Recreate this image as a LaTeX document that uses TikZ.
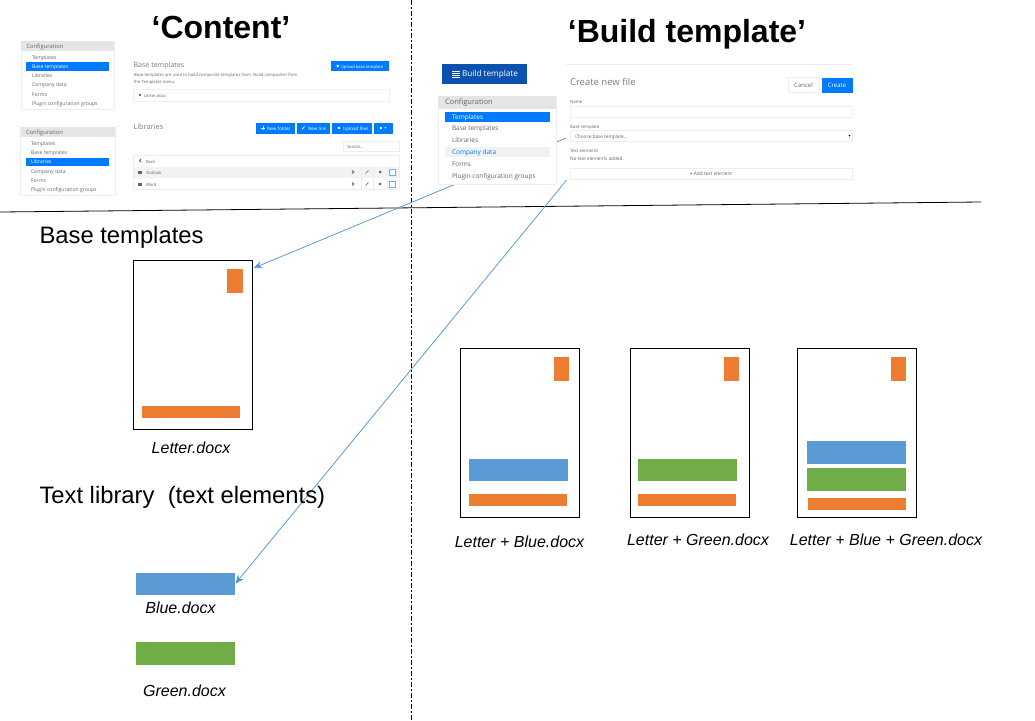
\documentclass[tikz,border=0pt]{standalone}
\usepackage{fontspec}
\setmainfont{Liberation Sans}
\newfontfamily\uifont{Open Sans}
\newfontfamily\symfont{DejaVu Sans}
\usetikzlibrary{arrows.meta}
\definecolor{uiblue}{HTML}{007BFF}
\definecolor{uidark}{HTML}{0B52B0}
\definecolor{uitext}{HTML}{666666}
\definecolor{uihead}{HTML}{E5E5E5}
\definecolor{uiline}{HTML}{EEEEEE}
\definecolor{uirow}{HTML}{F2F2F2}
\definecolor{docorange}{HTML}{ED7D31}
\definecolor{docblue}{HTML}{5B9BD5}
\definecolor{docgreen}{HTML}{70AD47}
\definecolor{arrowblue}{HTML}{5B9BD5}
\tikzset{
  px/.style={inner sep=0pt,outer sep=0pt},
  uitxt/.style={px,text height=.7em,text depth=.2em},
  titletext/.style={px,font=\fontsize{32}{36}\selectfont\bfseries},
  headtext/.style={px,anchor=west,font=\fontsize{23.8}{28}\selectfont},
  captext/.style={px,font=\fontsize{16}{20}\selectfont\itshape},
  page/.style={px,draw=black,line width=0.9pt,fill=white,minimum width=119,minimum height=169.5},
  orangebar/.style={px,fill=docorange},
  bluebar/.style={px,fill=docblue},
  greenbar/.style={px,fill=docgreen},
  panel/.style={px,draw=uiline,line width=0.6pt,fill=white},
  cleanpanel/.style={px,fill=white},
  uihead/.style={px,fill=uihead},
  uihigh/.style={px,fill=uiblue},
  uirowbg/.style={px,fill=uirow},
  uibox/.style={px,draw=uiline,line width=0.6pt,fill=white},
  uibtn/.style={px,fill=uiblue},
  btntext/.style={uitxt,anchor=west,text=white,font=\uifont\fontsize{4.6}{5}\selectfont},
  ui/.style={uitxt,anchor=west,text=uitext,font=\uifont\fontsize{5.1}{6}\selectfont},
  uicap/.style={uitxt,anchor=west,text=uitext,font=\uifont\fontsize{5.8}{7}\selectfont},
  uismall/.style={uitxt,anchor=west,text=uitext,font=\uifont\fontsize{4.2}{5}\selectfont},
  uiform/.style={uitxt,anchor=west,text=uitext,font=\uifont\fontsize{4.7}{5}\selectfont},
  uititle/.style={uitxt,anchor=west,text=uitext!85,font=\uifont\fontsize{7.4}{8}\selectfont},
  uilarge/.style={uitxt,anchor=west,text=uitext,font=\uifont\fontsize{6.5}{8}\selectfont},
  link/.style={draw=arrowblue,line width=0.8pt,-{Stealth[length=8.5pt,width=7.5pt]}},
  sep/.style={draw=black,line width=0.8pt},
  sepv/.style={draw=black,line width=0.9pt,dash pattern=on 4.5pt off 2pt on 2.5pt off 2pt},
}
\newcommand{\uirect}[6][]{\node[#2,minimum width=#5-#3,minimum height=#6-#4,#1] at ({(#3+#5)/2},{(#4+#6)/2}) {};}
\begin{document}
\begin{tikzpicture}[x=1pt,y=-1pt]
\useasboundingbox (0,0) rectangle (1035,720);
\fill[white] (0,0) rectangle (1035,720);
% separators
\coordinate (sepA) at (0,212);
\coordinate (sepB) at (981,202);
\coordinate (sepC) at (411,0);
\coordinate (sepD) at (411,720);
\draw[sep] (sepA) -- (sepB);
\draw[sepv] (sepC) -- (sepD);
% documents
\node[page] (basedoc) at (193,345) {};
\node[page] (doc1) at (520,433) {};
\node[page] (doc2) at (690,433) {};
\node[page] (doc3) at (857,433) {};
\node[bluebar,minimum width=99,minimum height=22.5] (blue) at (185.5,584) {};
\node[greenbar,minimum width=99,minimum height=23] (green) at (185.5,653.5) {};
% connectors
\coordinate (startA) at (568,137.3);
\coordinate (startB) at (567.5,179);
\coordinate (endA) at (253.8,268);
\coordinate (endB) at (235.5,583.5);
\draw[link] (startA) -- (endA);
\draw[link] (startB) -- (endB);
% page contents
\node[orangebar,minimum width=16,minimum height=24] (o1) at (235,281) {};
\node[orangebar,minimum width=98,minimum height=12] (b1) at (191,412) {};
\node[orangebar,minimum width=15,minimum height=24] (o2) at (561.5,369) {};
\node[bluebar,minimum width=99,minimum height=22] (m2) at (518.5,470) {};
\node[orangebar,minimum width=98,minimum height=12] (b2) at (518,500) {};
\node[orangebar,minimum width=15,minimum height=24] (o3) at (731.5,369) {};
\node[greenbar,minimum width=99,minimum height=22] (m3) at (687.5,470) {};
\node[orangebar,minimum width=98,minimum height=12] (b3) at (687,500) {};
\node[orangebar,minimum width=15,minimum height=24] (o4) at (898.5,369) {};
\node[bluebar,minimum width=99,minimum height=23] (m4a) at (856.5,452.5) {};
\node[greenbar,minimum width=99,minimum height=23] (m4b) at (856.5,479.5) {};
\node[orangebar,minimum width=98,minimum height=12] (b4) at (856.5,504) {};
% large text
\node[titletext] (t1) at (221,27.5) {‘Content’};
\node[titletext] (t2) at (687,34) {‘Build template’};
\node[headtext] (h1) at (39.5,237) {Base templates};
\node[headtext] (h2) at (39.5,497) {Text library\ \ (text elements)};
\node[captext] (c0) at (191,447.5) {Letter.docx};
\node[captext] (c1) at (519.5,542) {Letter + Blue.docx};
\node[captext] (c2) at (698,540) {Letter + Green.docx};
\node[captext] (c3) at (886,540) {Letter + Blue + Green.docx};
\node[captext] (c4) at (180.5,607.5) {Blue.docx};
\node[captext] (c5) at (184.5,690.5) {Green.docx};
% --- Content screenshots ---
\uirect{panel}{21}{41}{114}{109}
\uirect{uihead}{21}{41}{114}{51}
\node[uicap] (p1h) at (26.5,45.8) {Configuration};
\uirect{uihigh}{26}{62}{109}{71}
\node[ui] (p1a) at (32,57) {Templates};
\node[ui,text=white] (p1b) at (32,66) {Base templates};
\node[ui] (p1c) at (32,75) {Libraries};
\node[ui] (p1d) at (32,84.3) {Company data};
\node[ui] (p1e) at (32,93.5) {Forms};
\node[ui] (p1f) at (32,102.8) {Plugin configuration groups};
\uirect{panel}{20.5}{127}{115}{195}
\uirect{uihead}{20.5}{127}{115}{137}
\node[uicap] (p2h) at (26,131.8) {Configuration};
\uirect{uihigh}{26}{157.5}{109}{166}
\node[ui] (p2a) at (31,143) {Templates};
\node[ui] (p2b) at (31,152) {Base templates};
\node[ui,text=white] (p2c) at (31,161.3) {Libraries};
\node[ui] (p2d) at (31,170.5) {Company data};
\node[ui] (p2e) at (31,180) {Forms};
\node[ui] (p2f) at (31,189) {Plugin configuration groups};
% base templates pane
\node[uititle,font=\uifont\fontsize{7.1}{8}\selectfont] (bt) at (133.5,65) {Base templates};
\uirect{uibtn}{330.5}{61}{389}{71}
\fill[white] (337.7,66) circle (1.4pt);
\node[btntext,font=\uifont\fontsize{4.1}{5}\selectfont] (btt) at (341,66) {Upload base template};
\node[uismall] (bd1) at (134,74.3) {Base templates are used to build composite templates from. Build composites from};
\node[uismall] (bd2) at (134,80.5) {the Templates menu.};
\uirect{uibox}{133.5}{89.5}{389}{101}
\fill[uitext] (140,95) circle (1.4pt);
\node[uismall] (bl) at (144,95) {Letter.docx};
% libraries pane
\node[uititle] (lt) at (133.5,126.5) {Libraries};
\uirect{uibtn}{256}{123}{295}{133.5}
\draw[white,line width=0.9pt] (261,128) -- (265,128) (263,126) -- (263,130);
\node[btntext] (l1) at (267,128) {New folder};
\uirect{uibtn}{297}{123}{330}{133.5}
\draw[white,line width=0.7pt] (302,129.5) -- (304.5,126.5);
\node[btntext] (l2) at (308,128) {New link};
\uirect{uibtn}{332}{123}{372}{133.5}
\fill[white] (339,128) circle (1.4pt);
\node[btntext] (l3) at (343,128) {Upload files};
\uirect{uibtn}{374}{123}{392.5}{133.5}
\fill[white] (381,128) circle (1.4pt);
\node[px,text=white,font=\symfont\fontsize{4}{4}\selectfont] (l4) at (385.5,128) {▾};
\uirect{uibox}{343.5}{141}{399}{151}
\node[uismall] (ls) at (347,146) {Search...};
\uirect{uibox}{133.5}{155}{399}{189.5}
\uirect{uirowbg}{134}{166.5}{399}{178}
\node[uismall] (lb) at (146,160.5) {Back};
\node[uismall] (lo) at (146,172) {Outlook};
\node[uismall] (lw) at (146,184) {Word};
\draw[uitext,line width=0.8pt] (141,159) -- (139.5,160.5) -- (141,162);
\fill[uitext] (137.5,170.5) rectangle (141.5,173.5);
\fill[uitext] (137.5,182.5) rectangle (141.5,185.5);
\foreach \yy in {172,184}{
  \draw[uitext,line width=0.9pt] (352,\yy-1.5) -- (353.8,\yy) -- (352,\yy+1.5);
  \draw[uitext,line width=0.6pt] (365.5,\yy+1.5) -- (368.5,\yy-1.5);
  \fill[uitext] (380,\yy) circle (1.5pt);
  \draw[uiblue!60,line width=0.8pt,fill=white] (389,\yy-3) rectangle (395.5,\yy+3);
}
\draw[uiline,line width=0.5pt] (361,166.5) -- (361,189.5) (373.5,166.5) -- (373.5,189.5) (387,166.5) -- (387,189.5);
% --- Build template screenshots ---
\node[px,fill=uidark,minimum width=85,minimum height=20] (bb) at (484.5,74) {};
\foreach \yy in {70.5,72.5,74.5,76.5}{\fill[white] (452,\yy) rectangle (460,\yy+1.3);}
\node[uitxt,anchor=west,text=white,font=\uifont\fontsize{8.2}{10}\selectfont] (bbt) at (462,73.5) {Build template};
\node[panel,minimum width=118,minimum height=88] (cfg3) at (497,140) {};
\uirect{uihead}{438}{96}{556}{109}
\node[uilarge,font=\uifont\fontsize{7.5}{8}\selectfont] (p3h) at (445,102) {Configuration};
\uirect{uihigh}{445}{112}{550}{122}
\uirect{uirowbg}{445}{147}{550}{157}
\node[uilarge,text=white] (p3a) at (452,116.5) {Templates};
\node[uilarge] (p3b) at (452,128.3) {Base templates};
\node[uilarge] (p3c) at (452,140) {Libraries};
\node[uilarge,text=uiblue] (p3d) at (452,152) {Company data};
\node[uilarge] (p3e) at (452,163.5) {Forms};
\node[uilarge] (p3f) at (452,175.5) {Plugin configuration groups};
% create form
\node[cleanpanel,minimum width=288,minimum height=116] (form) at (710,122) {};
\draw[uiline,line width=0.5pt] (form.north west) -- (form.north east);
\node[uitxt,anchor=west,text=uitext!85,font=\uifont\fontsize{9.5}{12}\selectfont] (cf) at (570,82.5) {Create new file};
\uirect{uibox}{788}{77.5}{819}{92.5}
\node[px,text=uitext,font=\uifont\fontsize{6}{7}\selectfont] (cc) at (803.5,85) {Cancel};
\uirect{uihigh}{822}{77.5}{852.5}{92.5}
\node[px,text=white,font=\uifont\fontsize{6}{7}\selectfont] (cr) at (837,85) {Create};
\node[uiform,font=\uifont\fontsize{4.4}{5}\selectfont] (fn) at (570,100.5) {Name};
\uirect{uibox}{570}{106}{852}{117}
\node[uiform,font=\uifont\fontsize{4.4}{5}\selectfont] (fb) at (570,125.5) {Base template};
\uirect{uibox}{570}{130.5}{852}{141.5}
\node[uiform] (fs) at (575,136) {Choose base template...};
\node[px,font=\symfont\fontsize{4}{4}\selectfont,text=black] (fa) at (849.5,136) {▾};
\node[uiform,font=\uifont\fontsize{4.4}{5}\selectfont] (ft) at (570,150) {Text elements};
\node[uiform] (fx) at (570,158.3) {No text elements added.};
\uirect{uibox}{570}{168.5}{852}{179.5}
\node[px,text=uitext,font=\uifont\fontsize{4.8}{5}\selectfont] (fa2) at (711,174) {{\bfseries +} Add text element};
\end{tikzpicture}
\end{document}
